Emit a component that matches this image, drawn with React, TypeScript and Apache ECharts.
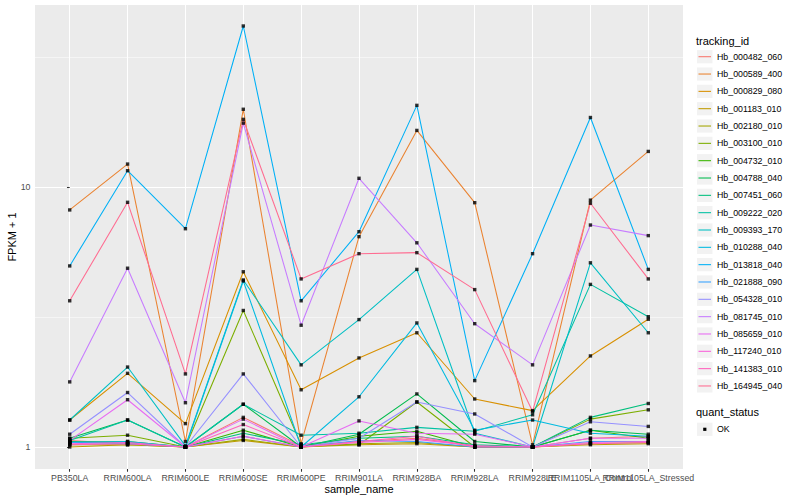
import React, { useEffect, useRef } from 'react';
import * as echarts from 'echarts';

const sampleNames = [
  'PB350LA', 'RRIM600LA', 'RRIM600LE', 'RRIM600SE', 'RRIM600PE', 'RRIM901LA',
  'RRIM928BA', 'RRIM928LA', 'RRIM928LE', 'RRIM1105LA_Control', 'RRIM1105LA_Stressed',
];

const trackingIds = [
  'Hb_000482_060', 'Hb_000589_400', 'Hb_000829_080', 'Hb_001183_010', 'Hb_002180_010',
  'Hb_003100_010', 'Hb_004732_010', 'Hb_004788_040', 'Hb_007451_060', 'Hb_009222_020',
  'Hb_009393_170', 'Hb_010288_040', 'Hb_013818_040', 'Hb_021888_090', 'Hb_054328_010',
  'Hb_081745_010', 'Hb_085659_010', 'Hb_117240_010', 'Hb_141383_010', 'Hb_164945_040',
];

const seriesColors = [
  '#F8766D', '#EA8331', '#D89000', '#C09B00', '#A3A500', '#7CAE00', '#39B600', '#00BB4E',
  '#00BF7D', '#00C1A3', '#00BFC4', '#00BAE0', '#00B0F6', '#35A2FF', '#9590FF', '#C77CFF',
  '#E76BF3', '#FA62DB', '#FF62BC', '#FF6C91',
];

// FPKM + 1 per sample (order of sampleNames)
const hb000482 = [1.06, 1.03, 1.0, 1.30, 1.01, 1.05, 1.08, 1.01, 1.0, 1.08, 1.10];
const hb000589 = [8.16, 12.25, 1.05, 19.9, 1.03, 6.44, 16.5, 8.7, 1.02, 8.9, 13.7];
const hb000829 = [1.27, 1.92, 1.23, 4.72, 1.66, 2.2, 2.75, 1.53, 1.38, 2.24, 3.1];
const hb001183 = [1.0, 1.02, 1.0, 1.06, 1.0, 1.02, 1.03, 1.0, 1.0, 1.02, 1.03];
const hb002180 = [1.02, 1.02, 1.0, 1.07, 1.0, 1.03, 1.04, 1.0, 1.0, 1.03, 1.04];
const hb003100 = [1.08, 1.11, 1.0, 3.35, 1.02, 1.02, 1.49, 1.0, 1.0, 1.28, 1.39];
const hb004732 = [1.04, 1.05, 1.0, 1.16, 1.0, 1.10, 1.15, 1.0, 1.0, 1.16, 1.08];
const hb004788 = [1.08, 1.27, 1.0, 1.46, 1.0, 1.12, 1.6, 1.05, 1.0, 1.16, 1.12];
const hb007451 = [1.05, 1.04, 1.0, 1.13, 1.02, 1.08, 1.1, 1.02, 1.0, 1.30, 1.47];
const hb009222 = [1.06, 1.27, 1.0, 1.46, 1.11, 1.13, 1.19, 1.15, 1.33, 4.22, 3.17];
const hb009393 = [1.27, 2.03, 1.01, 4.39, 2.07, 3.09, 4.82, 1.13, 1.0, 5.11, 2.75];
const hb010288 = [1.04, 1.05, 1.0, 4.35, 1.0, 1.56, 3.0, 1.16, 1.27, 1.13, 1.1];
const hb013818 = [4.97, 11.55, 6.91, 41.6, 3.65, 6.73, 20.6, 1.8, 5.54, 18.5, 4.82];
const hb021888 = [1.04, 1.03, 1.0, 1.1, 1.0, 1.06, 1.05, 1.0, 1.0, 1.05, 1.05];
const hb054328 = [1.12, 1.62, 1.0, 1.91, 1.0, 1.08, 1.49, 1.34, 1.0, 1.25, 1.2];
const hb081745 = [1.78, 4.87, 1.48, 17.6, 2.94, 10.8, 6.1, 2.98, 2.07, 7.14, 6.5];
const hb085659 = [1.06, 1.52, 1.0, 1.28, 1.0, 1.26, 1.13, 1.12, 1.0, 1.08, 1.08];
const hb117240 = [1.03, 1.04, 1.0, 1.1, 1.0, 1.04, 1.07, 1.01, 1.0, 1.04, 1.05];
const hb141383 = [1.02, 1.03, 1.0, 1.22, 1.0, 1.05, 1.1, 1.0, 1.0, 1.03, 1.04];
const hb164945 = [3.65, 8.73, 1.91, 18.2, 4.43, 5.54, 5.59, 4.03, 1.37, 8.66, 4.43];

const seriesValues = [
  hb000482, hb000589, hb000829, hb001183, hb002180, hb003100, hb004732, hb004788,
  hb007451, hb009222, hb009393, hb010288, hb013818, hb021888, hb054328, hb081745,
  hb085659, hb117240, hb141383, hb164945,
];

const yMajorTicks = [1, 10];
const yMinorTicks = [3.1623, 31.623];
const quantStatus = ['OK'];

const FONT = 'Liberation Sans, Arial, Helvetica, sans-serif';

export default function App() {
  const ref = useRef<HTMLDivElement>(null);

  useEffect(() => {
    document.body.style.margin = '0';
    if (!ref.current) return;
    const chart = echarts.init(ref.current, undefined, { renderer: 'svg' });

    const xIdx = sampleNames.map((_, i) => i);
    const xEven = xIdx.filter((i) => i % 2 === 0);
    const xOdd = xIdx.filter((i) => i % 2 === 1);

    const lineSeries = trackingIds.map((id, s) => ({
      name: id,
      type: 'line',
      xAxisIndex: 0,
      yAxisIndex: 0,
      data: seriesValues[s].map((v, i) => [i, v]),
      symbol: 'none',
      lineStyle: { color: seriesColors[s], width: 1.07 },
      itemStyle: { color: seriesColors[s] },
      z: 2,
      silent: true,
    }));

    const points: number[][] = [];
    seriesValues.forEach((vals) => vals.forEach((v, i) => points.push([i, v])));

    const legendX = 697;
    const legendTop = 56.7;
    const legendStep = 17.33;
    const graphics: any[] = [
      {
        type: 'text', x: 696, y: 40.7,
        style: { text: 'tracking_id', font: `11px ${FONT}`, fill: '#000', textAlign: 'left', textVerticalAlign: 'middle' },
      },
    ];
    trackingIds.forEach((id, i) => {
      const cy = legendTop + i * legendStep;
      graphics.push({ type: 'rect', shape: { x: legendX, y: cy - 6.6, width: 15.5, height: 13.2 }, style: { fill: '#F2F2F2' } });
      graphics.push({ type: 'line', shape: { x1: legendX + 1.5, y1: cy, x2: legendX + 14, y2: cy }, style: { stroke: seriesColors[i], lineWidth: 1.07 } });
      graphics.push({
        type: 'text', x: 717, y: cy,
        style: { text: id, font: `8.8px ${FONT}`, fill: '#000', textAlign: 'left', textVerticalAlign: 'middle' },
      });
    });
    graphics.push({
      type: 'text', x: 696, y: 412.3,
      style: { text: 'quant_status', font: `11px ${FONT}`, fill: '#000', textAlign: 'left', textVerticalAlign: 'middle' },
    });
    quantStatus.forEach((q, i) => {
      const cy = 429.3 + i * legendStep;
      graphics.push({ type: 'rect', shape: { x: legendX, y: cy - 6.6, width: 15.5, height: 13.2 }, style: { fill: '#F2F2F2' } });
      graphics.push({ type: 'rect', shape: { x: legendX + 6.2, y: cy - 1.6, width: 3.2, height: 3.2 }, style: { fill: '#000' } });
      graphics.push({
        type: 'text', x: 717, y: cy,
        style: { text: q, font: `8.8px ${FONT}`, fill: '#000', textAlign: 'left', textVerticalAlign: 'middle' },
      });
    });
    graphics.push({
      type: 'text', x: 359, y: 488.5,
      style: { text: 'sample_name', font: `11px ${FONT}`, fill: '#000', textAlign: 'center', textVerticalAlign: 'middle' },
    });
    graphics.push({
      type: 'text', x: 12, y: 237, rotation: Math.PI / 2,
      style: { text: 'FPKM + 1', font: `11px ${FONT}`, fill: '#000', textAlign: 'center', textVerticalAlign: 'middle' },
    });

    const xLabelStyle = {
      show: true, margin: 4.5,
      showMinLabel: true, showMaxLabel: true, hideOverlap: false,
      formatter: (v: number) => sampleNames[Math.round(v)] ?? '',
      color: '#4D4D4D', fontSize: 8.8, fontFamily: FONT,
    };

    const option: any = {
      animation: false,
      backgroundColor: '#FFFFFF',
      grid: {
        left: 35, right: 117, top: 5, bottom: 31,
        show: true, backgroundColor: '#EBEBEB', borderWidth: 0,
      },
      xAxis: [
        {
          type: 'value',
          min: -0.6,
          max: 10.6,
          position: 'bottom',
          axisLine: { show: false },
          axisTick: { show: true, length: 2.75, lineStyle: { color: '#333333', width: 1.07 }, customValues: xIdx },
          axisLabel: { ...xLabelStyle, customValues: xEven },
          splitLine: { show: true, lineStyle: { color: '#FFFFFF', width: 1.07 } },
        },
        {
          type: 'value',
          min: -0.6,
          max: 10.6,
          position: 'bottom',
          offset: 0,
          axisLine: { show: false },
          axisTick: { show: false, customValues: xOdd },
          axisLabel: { ...xLabelStyle, customValues: xOdd },
          splitLine: { show: false },
        },
      ],
      yAxis: [
        {
          type: 'log',
          logBase: 10,
          min: 0.823,
          max: 50.1,
          axisLine: { show: false },
          axisTick: { show: true, length: 2.75, lineStyle: { color: '#333333', width: 1.07 }, customValues: yMajorTicks },
          axisLabel: {
            show: true, customValues: yMajorTicks, margin: 4.5,
            showMinLabel: true, showMaxLabel: true,
            formatter: (v: number) => String(Math.round(v)),
            color: '#4D4D4D', fontSize: 8.8, fontFamily: FONT,
          },
          splitLine: { show: true, lineStyle: { color: '#FFFFFF', width: 1.07 } },
        },
        {
          type: 'log',
          logBase: 10,
          min: 0.823,
          max: 50.1,
          position: 'left',
          axisLine: { show: false },
          axisTick: { show: false, customValues: yMinorTicks },
          axisLabel: { show: false, customValues: yMinorTicks },
          splitLine: { show: true, lineStyle: { color: '#FFFFFF', width: 0.53 } },
        },
      ],
      graphic: graphics,
      series: [
        ...lineSeries,
        {
          name: 'quant_status',
          type: 'scatter',
          xAxisIndex: 0,
          yAxisIndex: 0,
          data: points,
          symbol: 'rect',
          symbolSize: 3.4,
          itemStyle: { color: '#000000' },
          z: 3,
          silent: true,
        },
      ],
    };

    chart.setOption(option);
    return () => chart.dispose();
  }, []);

  return <div ref={ref} style={{ width: 800, height: 500 }} />;
}
